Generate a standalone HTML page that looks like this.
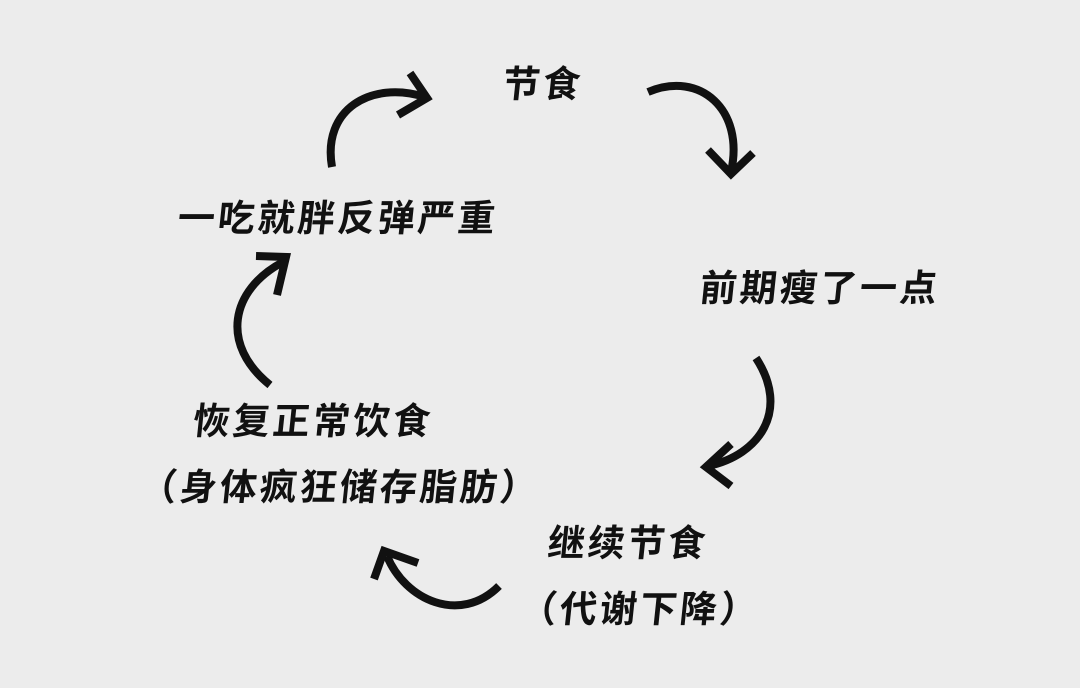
<!DOCTYPE html>
<html><head><meta charset="utf-8"><style>
body{margin:0;width:1080px;height:688px;background:#ececec;overflow:hidden;position:relative;font-family:"Liberation Sans","Noto Sans CJK SC",sans-serif;}
.t{position:absolute;font-size:37px;font-weight:bold;color:#111;letter-spacing:3px;white-space:nowrap;line-height:1;transform:skewX(-6deg);}
svg{position:absolute;left:0;top:0}
</style></head><body>
<div class="t" style="left:503px;top:66px">节食</div>
<div class="t" style="left:700px;top:270px">前期瘦了一点</div>
<div class="t" style="left:548px;top:525px">继续节食</div>
<div class="t" style="left:520px;top:591px">（代谢下降）</div>
<div class="t" style="left:193px;top:403px">恢复正常饮食</div>
<div class="t" style="left:140px;top:469px">（身体疯狂储存脂肪）</div>
<div class="t" style="left:178px;top:200px">一吃就胖反弹严重</div>
<svg width="1080" height="688" fill="none" stroke="#111" stroke-width="8" stroke-linejoin="miter">
<path d="M332,167 C322,110 370,80 425,97"/><path d="M410,73 L427,98 L398,115"/>
<path d="M648,92 C700,70 745,110 731,172"/><path d="M708,150 L731,174 L753,153"/>
<path d="M756,358 C790,410 760,455 708,466"/><path d="M731,444 L706,467 L731,486"/>
<path d="M499,586 C460,625 405,600 387,556"/><path d="M374,579 L384,551 L418,563"/>
<path d="M270,385 C220,345 230,290 283,262"/><path d="M256,256 L286,257 L277,295"/>
</svg>
</body></html>
